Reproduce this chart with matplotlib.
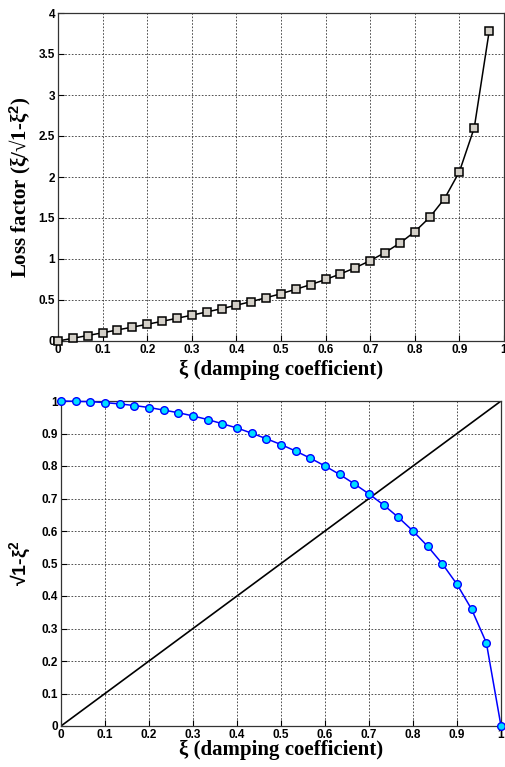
import matplotlib

matplotlib.use('Agg')
import matplotlib.pyplot as plt

# damping coefficient samples
xi_top = [0, 0.0333, 0.0667, 0.1, 0.1333, 0.1667, 0.2, 0.2333, 0.2667, 0.3,
          0.3333, 0.3667, 0.4, 0.4333, 0.4667, 0.5, 0.5333, 0.5667, 0.6, 0.6333,
          0.6667, 0.7, 0.7333, 0.7667, 0.8, 0.8333, 0.8667, 0.9, 0.9333, 0.9667]
loss_factor = [0, 0.033, 0.067, 0.100, 0.135, 0.169, 0.204, 0.240, 0.277, 0.315,
               0.354, 0.394, 0.436, 0.481, 0.528, 0.577, 0.631, 0.688, 0.750, 0.818,
               0.894, 0.980, 1.079, 1.194, 1.333, 1.507, 1.737, 2.065, 2.600, 3.775]

xi_bottom = xi_top + [1.0]
root_vals = [1.0, 0.999, 0.998, 0.995, 0.991, 0.986, 0.980, 0.972, 0.964, 0.954,
             0.943, 0.930, 0.917, 0.901, 0.884, 0.866, 0.846, 0.824, 0.800, 0.774,
             0.745, 0.714, 0.680, 0.642, 0.600, 0.553, 0.499, 0.436, 0.359, 0.256, 0.0]

diag_x = [0, 1]
diag_y = [0, 1]

x_ticks = [0, 0.1, 0.2, 0.3, 0.4, 0.5, 0.6, 0.7, 0.8, 0.9, 1]
x_ticklabels = ['0', '0.1', '0.2', '0.3', '0.4', '0.5', '0.6', '0.7', '0.8', '0.9', '1']
top_yticks = [0, 0.5, 1, 1.5, 2, 2.5, 3, 3.5, 4]
top_yticklabels = ['0', '0.5', '1', '1.5', '2', '2.5', '3', '3.5', '4']
bot_yticks = [0, 0.1, 0.2, 0.3, 0.4, 0.5, 0.6, 0.7, 0.8, 0.9, 1]
bot_yticklabels = ['0', '0.1', '0.2', '0.3', '0.4', '0.5', '0.6', '0.7', '0.8', '0.9', '1']

plt.rcParams['mathtext.fontset'] = 'custom'
plt.rcParams['mathtext.rm'] = 'Liberation Sans:bold'
plt.rcParams['mathtext.it'] = 'Liberation Sans:bold'
plt.rcParams['mathtext.bf'] = 'Liberation Sans:bold'

W, H = 506, 767
fig = plt.figure(figsize=(W / 100, H / 100), dpi=100)

tick_font = dict(family='Liberation Sans', weight='bold', size=8.5)
label_font = dict(family='Liberation Serif', weight='bold', size=15)


def style_axes(ax, yticks, yticklabels):
    ax.set_xlim(0, 1)
    ax.set_xticks(x_ticks)
    ax.set_xticklabels(x_ticklabels, **tick_font)
    ax.set_yticks(yticks)
    ax.set_yticklabels(yticklabels, **tick_font)
    ax.tick_params(direction='in', length=4, width=0.8, pad=2)
    ax.grid(True, color='#333333', linestyle=(0, (2, 2)), linewidth=0.6)
    ax.set_axisbelow(True)
    for sp in ax.spines.values():
        sp.set_linewidth(0.9)
        sp.set_color('#333333')


# top: loss factor
ax1 = fig.add_axes([58 / W, 1 - 341 / H, (504 - 58) / W, (341 - 13) / H])
ax1.plot(xi_top, loss_factor, color='black', linewidth=1.1, marker='s',
         markersize=5.5, markerfacecolor='#d4d0c8', markeredgecolor='black',
         markeredgewidth=1.1, clip_on=False, zorder=3)
ax1.set_ylim(0, 4)
style_axes(ax1, top_yticks, top_yticklabels)
ax1.set_xlabel('ξ (damping coefficient)', labelpad=3, **label_font)
ax1.set_ylabel(r'Loss factor (ξ/√1-ξ$^{2}$)', **label_font)
ax1.yaxis.set_label_coords(-0.055, 0.47)

# bottom: sqrt(1 - xi^2) against xi
ax2 = fig.add_axes([61 / W, 1 - 726 / H, (501 - 61) / W, (726 - 401) / H])
ax2.plot(diag_x, diag_y, color='black', linewidth=1.2, zorder=2)
ax2.plot(xi_bottom, root_vals, color='#0000ff', linewidth=1.1, marker='o',
         markersize=5.5, markerfacecolor='#00ddff', markeredgecolor='#0000ff',
         markeredgewidth=1.0, clip_on=False, zorder=3)
ax2.set_ylim(0, 1)
style_axes(ax2, bot_yticks, bot_yticklabels)
ax2.set_xlabel('ξ (damping coefficient)', labelpad=-1, **label_font)
ax2.set_ylabel(r'√1-ξ$^{2}$', labelpad=6, family='Liberation Sans',
               weight='bold', size=14)

fig.savefig('out.png', dpi=100)
plt.close(fig)
